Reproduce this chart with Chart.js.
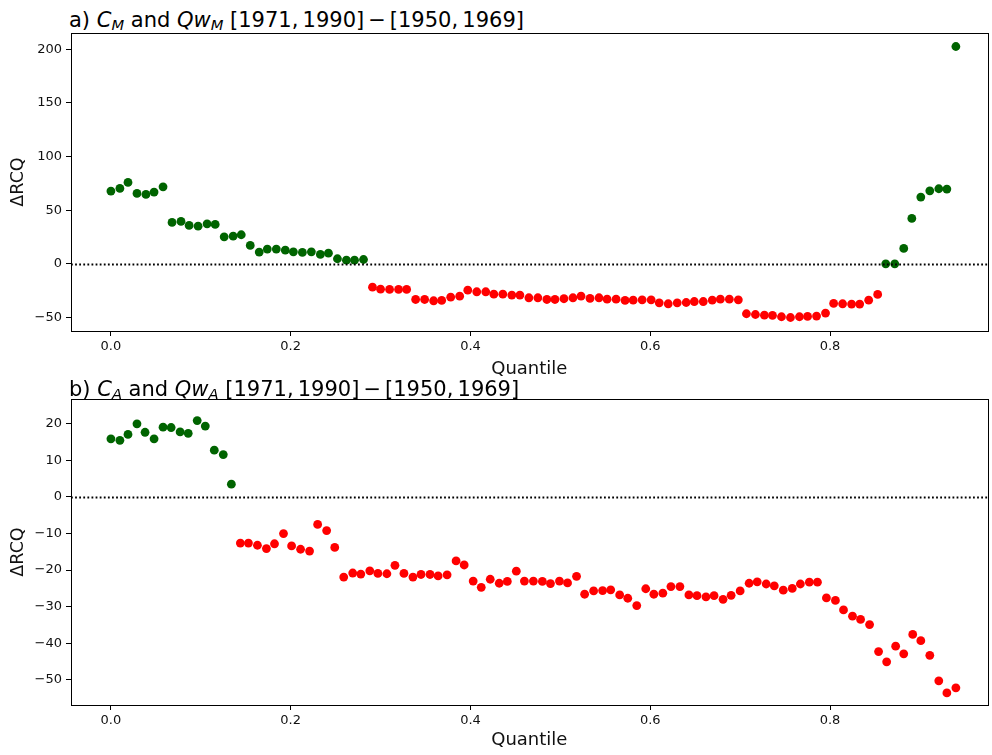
<!DOCTYPE html>
<html>
<head>
<meta charset="utf-8">
<script src="https://cdn.jsdelivr.net/npm/chart.js@4.4.0/dist/chart.umd.min.js"></script>
<style>
  body { margin: 0; background: #fff; }
  #wrap { position: relative; width: 992px; height: 755px; overflow: hidden; font-family: 'DejaVu Sans', sans-serif; }
  canvas { position: absolute; left: 0; }
  .ttl { position: absolute; left: 69px; font-size: 21px; line-height: 21px; color: #000; white-space: nowrap; }
  .ttl sub { font-size: 0.7em; vertical-align: -0.22em; line-height: 0; }
  .ttl .op { margin: 0 4px; }
</style>
</head>
<body>
<div id="wrap">
  <div class="ttl" style="top:10px">a) <i>C</i><sub><i>M</i></sub> and <i>Qw</i><sub><i>M</i></sub> [1971,&#8201;1990]<span class="op">−</span>[1950,&#8201;1969]</div>
  <canvas id="panelA" width="992" height="384" style="top:0"></canvas>
  <canvas id="panelB" width="992" height="371" style="top:384px"></canvas>
  <div class="ttl" style="top:379px">b) <i>C</i><sub><i>A</i></sub> and <i>Qw</i><sub><i>A</i></sub> [1971,&#8201;1990]<span class="op">−</span>[1950,&#8201;1969]</div>
</div>
<script>
// quantiles and ΔRCQ values
let quantA = [0,0.010,0.019,0.029,0.039,0.048,0.058,0.068,0.078,0.087,0.097,0.107,0.116,0.126,0.136,0.145,0.155,0.165,0.174,0.184,
  0.194,0.203,0.213,0.223,0.233,0.242,0.252,0.262,0.271,0.281,0.291,0.300,0.310,0.320,0.329,0.339,0.349,0.359,0.368,0.378,
  0.388,0.397,0.407,0.417,0.426,0.436,0.446,0.455,0.465,0.475,0.485,0.494,0.504,0.514,0.523,0.533,0.543,0.552,0.562,0.572,
  0.581,0.591,0.601,0.610,0.620,0.630,0.640,0.649,0.659,0.669,0.678,0.688,0.698,0.707,0.717,0.727,0.736,0.746,0.756,0.766,
  0.775,0.785,0.795,0.804,0.814,0.824,0.833,0.843,0.853,0.862,0.872,0.882,0.891,0.901,0.911,0.921,0.930,0.940];
let rcqA = [67.8,70.3,75.9,65.6,64.7,66.9,71.8,38.6,39.5,35.8,35.1,37.3,36.7,25.2,25.8,27.1,17.1,10.9,13.7,13.7,
  12.7,11.2,10.6,11.2,8.7,9.9,4.7,3.4,3.4,4.0,-21.8,-23.7,-23.9,-23.9,-23.9,-33.3,-33.3,-34.5,-34.2,-31.1,
  -30.2,-24.6,-26.1,-26.1,-28.3,-28.3,-29.2,-29.2,-31.7,-31.7,-33.3,-33.3,-32.6,-31.7,-30.2,-32.3,-31.7,-33.0,-33.0,-34.2,
  -33.9,-33.6,-33.6,-36.4,-37.3,-36.4,-36.1,-35.2,-35.2,-33.9,-33.0,-33.0,-33.6,-46.6,-47.3,-47.9,-48.2,-49.4,-50.1,-49.4,
  -49.1,-48.8,-46.0,-37.0,-37.3,-37.6,-37.6,-33.9,-28.6,0,0,14.3,42.3,62.2,68.1,70.0,69.7,202.7];

let quantB = [0,0.010,0.019,0.029,0.038,0.048,0.058,0.067,0.077,0.086,0.096,0.105,0.115,0.125,0.134,0.144,0.153,0.163,0.173,0.182,
  0.192,0.201,0.211,0.221,0.230,0.240,0.249,0.259,0.269,0.278,0.288,0.297,0.307,0.316,0.326,0.336,0.345,0.355,0.364,0.374,
  0.384,0.393,0.403,0.412,0.422,0.432,0.441,0.451,0.460,0.470,0.480,0.489,0.499,0.508,0.518,0.527,0.537,0.547,0.556,0.566,
  0.575,0.585,0.595,0.604,0.614,0.623,0.633,0.643,0.652,0.662,0.671,0.681,0.690,0.700,0.710,0.719,0.729,0.738,0.748,0.758,
  0.767,0.777,0.786,0.796,0.806,0.815,0.825,0.834,0.844,0.854,0.863,0.873,0.882,0.892,0.901,0.911,0.921,0.930,0.940];
let rcqB = [15.9,15.5,17.1,20.0,17.7,15.9,19.1,19.0,17.8,17.4,20.9,19.4,12.8,11.6,3.5,
  -12.6,-12.6,-13.2,-14.1,-12.8,-10.0,-13.4,-14.3,-14.8,-7.5,-9.2,-13.8,-21.9,-20.8,-21.1,
  -20.2,-20.9,-21.0,-18.7,-20.9,-21.9,-21.2,-21.2,-21.6,-21.3,-17.5,-18.6,-23.0,-24.7,-22.5,-23.6,-23.1,-20.3,-23.0,-23.0,-23.1,
  -23.7,-23.0,-23.5,-21.7,-26.6,-25.7,-25.6,-25.4,-26.8,-27.7,-29.7,-25.1,-26.6,-26.3,-24.5,-24.5,-26.8,-27.0,-27.3,-27.0,
  -28.0,-26.9,-25.7,-23.6,-23.2,-23.8,-24.3,-25.5,-25.0,-23.8,-23.3,-23.3,-27.6,-28.3,-30.9,-32.6,-33.5,-34.9,-42.3,-45.1,
  -40.8,-42.9,-37.6,-39.3,-43.3,-50.3,-53.6,-52.2];

let xTicks = [0, 0.2, 0.4, 0.6, 0.8];
let yTicksA = [-50, 0, 50, 100, 150, 200];
let yTicksB = [-50, -40, -30, -20, -10, 0, 10, 20];
let zeroLine = 0;

const green = '#006400';
const red = '#ff0000';
const fontFam = "'DejaVu Sans', sans-serif";

// box round the plot area + dotted line at zero (drawn over the points, like the original)
const framePlugin = {
  id: 'frame',
  afterDatasetsDraw(chart) {
    const {ctx, chartArea: a, scales} = chart;
    const y0 = Math.round(scales.y.getPixelForValue(zeroLine)) + 0.5;
    ctx.save();
    ctx.strokeStyle = '#000';
    ctx.lineWidth = 1.8;
    ctx.setLineDash([1.8, 2.3]);
    ctx.beginPath();
    ctx.moveTo(a.left, y0);
    ctx.lineTo(a.right, y0);
    ctx.stroke();
    ctx.setLineDash([]);
    ctx.lineWidth = 1;
    ctx.strokeRect(Math.round(a.left) + 0.5, Math.round(a.top) + 0.5,
      Math.round(a.right - a.left), Math.round(a.bottom - a.top));
    ctx.restore();
  }
};

function minusSign(v) {
  return String(v).replace('-', '\u2212');
}

function makePanel(id, quant, vals, yTicks, yMin, yMax, padTop, xAxisH) {
  new Chart(document.getElementById(id), {
    type: 'scatter',
    data: {
      datasets: [{
        data: quant.map((q, i) => ({x: q, y: vals[i]})),
        pointRadius: 4.4,
        pointHoverRadius: 4.4,
        pointBorderWidth: 0,
        pointBackgroundColor: c => (c.raw && c.raw.y >= 0) ? green : red
      }]
    },
    options: {
      responsive: false,
      animation: false,
      devicePixelRatio: 1,
      layout: {padding: {top: padTop, right: 1, left: 0, bottom: 0}},
      plugins: {legend: {display: false}, tooltip: {enabled: false}},
      scales: {
        x: {
          type: 'linear', min: -0.0444, max: 0.9753,
          afterBuildTicks: s => { s.ticks = xTicks.map(v => ({value: v})); },
          afterFit: s => { s.height = xAxisH; },
          grid: {drawOnChartArea: false, drawTicks: true, tickLength: 5, color: '#000'},
          border: {display: false},
          ticks: {color: '#111', font: {family: fontFam, size: 13}, padding: 3, maxRotation: 0,
            callback: v => v.toFixed(1)},
          title: {display: true, text: 'Quantile', color: '#111',
            font: {family: fontFam, size: 18}, padding: {top: 0, bottom: 4}}
        },
        y: {
          min: yMin, max: yMax,
          afterBuildTicks: s => { s.ticks = yTicks.map(v => ({value: v})); },
          afterFit: s => { s.width = 71; },
          grid: {drawOnChartArea: false, drawTicks: true, tickLength: 5, color: '#000'},
          border: {display: false},
          ticks: {color: '#111', font: {family: fontFam, size: 13}, padding: 4,
            callback: v => minusSign(v)},
          title: {display: true, text: 'ΔRCQ', color: '#111',
            font: {family: fontFam, size: 17.5}, padding: {top: 8, bottom: 0}}
        }
      }
    },
    plugins: [framePlugin]
  });
}

makePanel('panelA', quantA, rcqA, yTicksA, -62.7, 215.3, 33, 53);
makePanel('panelB', quantB, rcqB, yTicksB, -56.9, 26.8, 15, 50);
</script>
</body>
</html>
